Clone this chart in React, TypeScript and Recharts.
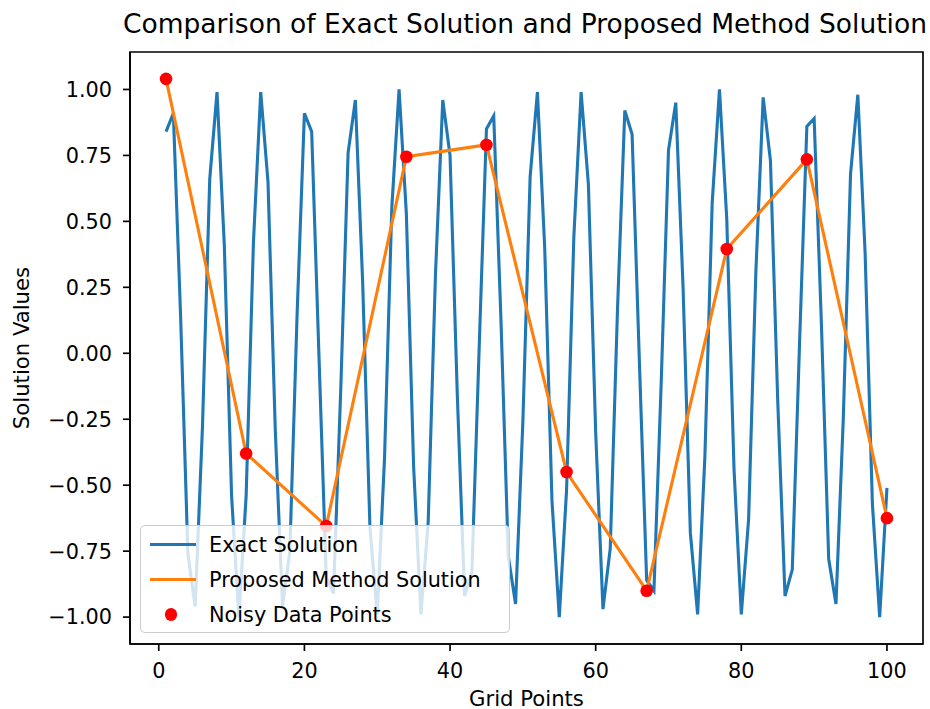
import React from 'react';
import { ComposedChart, Line, Scatter, XAxis, YAxis, ReferenceArea } from 'recharts';

const gridPoints = [
  1, 2, 3, 4, 5, 6, 7, 8, 9, 10, 11, 12, 13, 14, 15, 16, 17, 18, 19, 20,
  21, 22, 23, 24, 25, 26, 27, 28, 29, 30, 31, 32, 33, 34, 35, 36, 37, 38, 39, 40,
  41, 42, 43, 44, 45, 46, 47, 48, 49, 50, 51, 52, 53, 54, 55, 56, 57, 58, 59, 60,
  61, 62, 63, 64, 65, 66, 67, 68, 69, 70, 71, 72, 73, 74, 75, 76, 77, 78, 79, 80,
  81, 82, 83, 84, 85, 86, 87, 88, 89, 90, 91, 92, 93, 94, 95, 96, 97, 98, 99, 100,
];

const exactValues = [
  0.84, 0.91, 0.14, -0.76, -0.96, -0.28, 0.66, 0.99, 0.41, -0.54,
  -1.0, -0.54, 0.42, 0.99, 0.65, -0.29, -0.96, -0.75, 0.15, 0.91,
  0.84, -0.01, -0.85, -0.91, -0.13, 0.76, 0.96, 0.27, -0.66, -0.99,
  -0.4, 0.55, 1.0, 0.53, -0.43, -0.99, -0.64, 0.3, 0.96, 0.75,
  -0.16, -0.92, -0.83, 0.02, 0.85, 0.9, 0.12, -0.77, -0.95, -0.26,
  0.67, 0.99, 0.4, -0.56, -1.0, -0.52, 0.44, 0.99, 0.64, -0.3,
  -0.97, -0.74, 0.17, 0.92, 0.83, -0.03, -0.86, -0.9, -0.11, 0.77,
  0.95, 0.25, -0.68, -0.99, -0.39, 0.57, 1.0, 0.51, -0.44, -0.99,
  -0.63, 0.31, 0.97, 0.73, -0.18, -0.92, -0.82, 0.04, 0.86, 0.89,
  0.11, -0.78, -0.95, -0.25, 0.68, 0.98, 0.38, -0.57, -1.0, -0.51,
];

const noisyX = [1, 12, 23, 34, 45, 56, 67, 78, 89, 100];
const noisyValues = [1.04, -0.38, -0.655, 0.745, 0.79, -0.45, -0.9, 0.395, 0.735, -0.625];

const xTicks = [0, 20, 40, 60, 80, 100];
const yTicks = [-1, -0.75, -0.5, -0.25, 0, 0.25, 0.5, 0.75, 1];

const exactData = gridPoints.map((x, i) => ({ x, y: exactValues[i] }));
const noisyData = noisyX.map((x, i) => ({ x, y: noisyValues[i] }));

const FONT = '"DejaVu Sans", sans-serif';
const BLUE = '#1f77b4';
const ORANGE = '#ff7f0e';

const X_DOMAIN = [-3.95, 104.95];
const Y_DOMAIN = [-1.102, 1.142];

const fmtY = (v: number) => v.toFixed(2).replace('-', '\u2212');

const legendItems = [
  { name: 'Exact Solution', kind: 'line', color: BLUE },
  { name: 'Proposed Method Solution', kind: 'line', color: ORANGE },
  { name: 'Noisy Data Points', kind: 'dot', color: 'red' },
];

const Dot = (props: any) => {
  const { cx, cy } = props;
  return <circle cx={cx} cy={cy} r={6.3} fill="red" />;
};

export default function App() {
  return (
    <div style={{ position: 'absolute', left: 0, top: 0, width: 930, height: 709, background: '#fff', fontFamily: FONT }}>
      <div
        style={{
          position: 'absolute',
          left: 100,
          width: 850,
          top: 8,
          textAlign: 'center',
          fontSize: 26.5,
          color: '#000',
          whiteSpace: 'nowrap',
        }}
      >
        Comparison of Exact Solution and Proposed Method Solution
      </div>
      <ComposedChart width={930} height={709} margin={{ top: 52, right: 7, bottom: 0, left: 0 }}>
        <XAxis
          type="number"
          dataKey="x"
          domain={X_DOMAIN}
          ticks={xTicks}
          allowDataOverflow
          height={65}
          stroke="#000"
          axisLine={{ stroke: '#000', strokeWidth: 1.67 }}
          tickLine={{ stroke: '#000', strokeWidth: 1.67 }}
          tickSize={7}
          tickMargin={12}
          tick={{ fill: '#000', fontSize: 20.8, fontFamily: FONT }}
          label={{ value: 'Grid Points', position: 'insideBottom', offset: 3, fill: '#000', fontSize: 21.2, fontFamily: FONT }}
        />
        <YAxis
          type="number"
          dataKey="y"
          domain={Y_DOMAIN}
          ticks={yTicks}
          allowDataOverflow
          width={130}
          stroke="#000"
          axisLine={{ stroke: '#000', strokeWidth: 1.67 }}
          tickLine={{ stroke: '#000', strokeWidth: 1.67 }}
          tickSize={7}
          tickMargin={11}
          tickFormatter={fmtY}
          tick={{ fill: '#000', fontSize: 20.8, fontFamily: FONT }}
          label={{
            content: () => (
              <text x={29} y={348} transform="rotate(-90 29 348)" textAnchor="middle" fill="#000" fontSize={21.2} fontFamily={FONT}>
                Solution Values
              </text>
            ),
          }}
        />
        <ReferenceArea
          x1={X_DOMAIN[0]}
          x2={X_DOMAIN[1]}
          y1={Y_DOMAIN[0]}
          y2={Y_DOMAIN[1]}
          fill="none"
          stroke="#000"
          strokeWidth={1.67}
          ifOverflow="visible"
        />
        <Line
          data={exactData}
          dataKey="y"
          type="linear"
          stroke={BLUE}
          strokeWidth={3.1}
          dot={false}
          activeDot={false}
          isAnimationActive={false}
        />
        <Line
          data={noisyData}
          dataKey="y"
          type="linear"
          stroke={ORANGE}
          strokeWidth={3.1}
          dot={false}
          activeDot={false}
          isAnimationActive={false}
        />
        <Scatter data={noisyData} dataKey="y" shape={<Dot />} isAnimationActive={false} />
      </ComposedChart>
      <div
        style={{
          position: 'absolute',
          left: 140,
          top: 525,
          width: 370,
          height: 108,
          boxSizing: 'border-box',
          background: 'rgba(255,255,255,0.8)',
          border: '1.5px solid #cccccc',
          borderRadius: 5,
          paddingTop: 1,
        }}
      >
        {legendItems.map((it) => (
          <div key={it.name} style={{ display: 'flex', alignItems: 'center', height: 35, fontSize: 20.8, color: '#000' }}>
            <div style={{ width: 68, display: 'flex', justifyContent: 'center' }}>
              {it.kind === 'line' ? (
                <div style={{ width: 46, height: 3, background: it.color, marginLeft: -4 }} />
              ) : (
                <div style={{ width: 12.6, height: 12.6, borderRadius: '50%', background: it.color, marginLeft: -8 }} />
              )}
            </div>
            <span style={{ whiteSpace: 'nowrap' }}>{it.name}</span>
          </div>
        ))}
      </div>
    </div>
  );
}
